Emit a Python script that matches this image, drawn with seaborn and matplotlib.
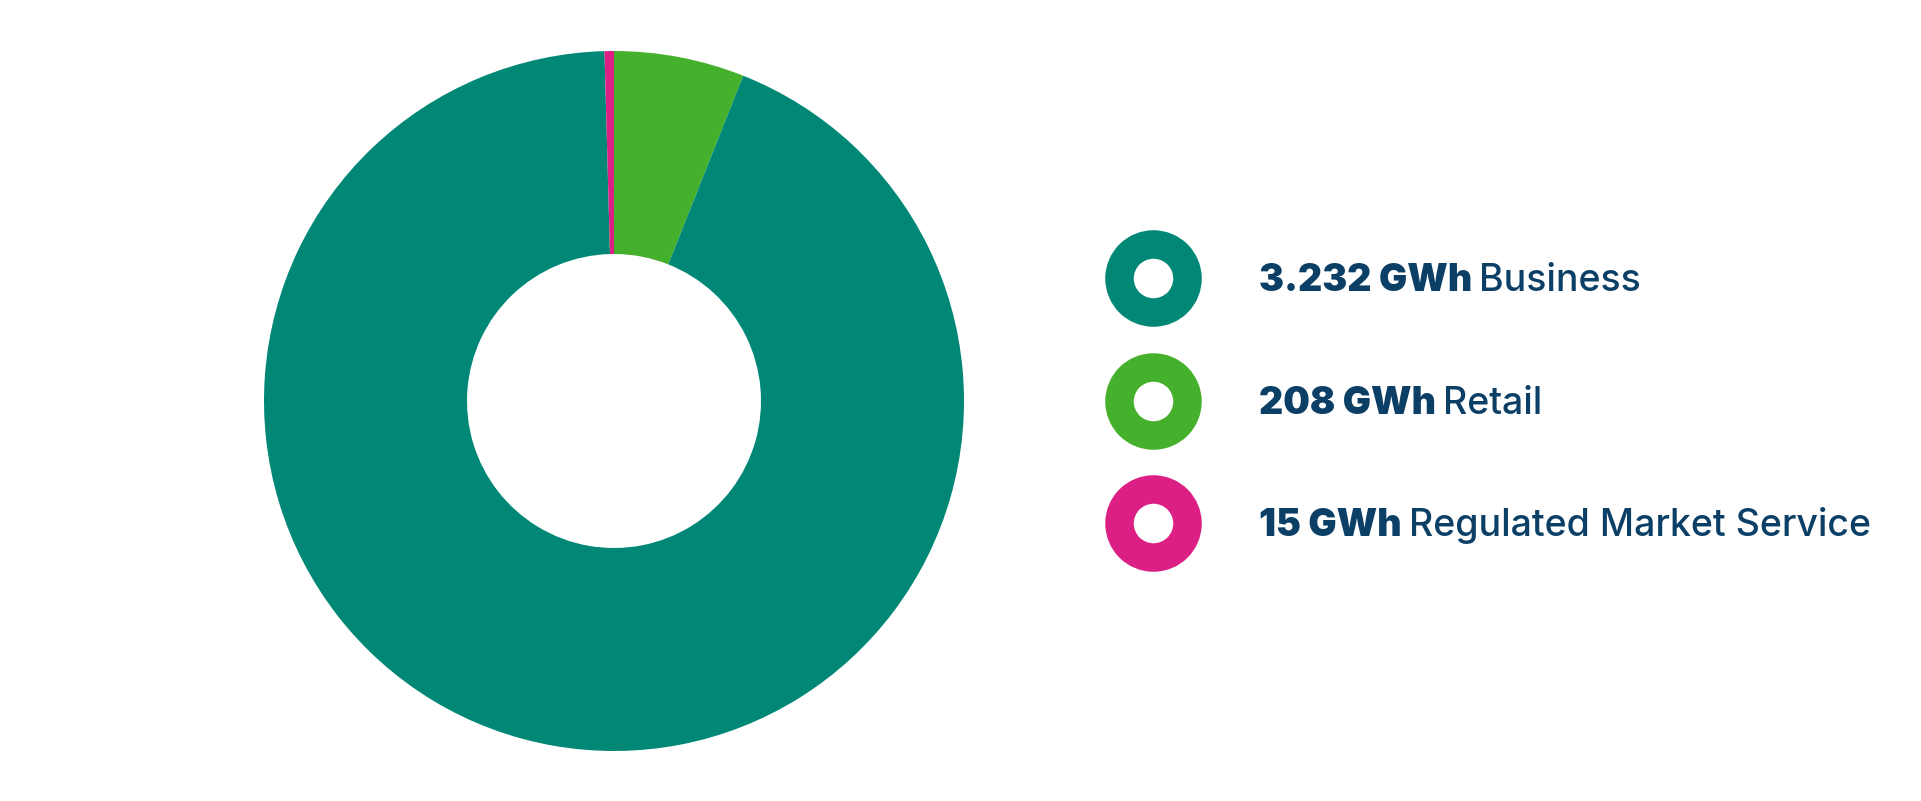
import matplotlib
matplotlib.use("Agg")
import matplotlib.pyplot as plt
import seaborn as sns

# data
labels = ["Business", "Retail", "Regulated Market Service"]
values = [3232, 208, 15]
value_labels = ["3.232 GWh", "208 GWh", "15 GWh"]
colors = ["#008775", "#45B02B", "#DB1F84"]
pie_order = [1, 0, 2]  # clockwise from 12 o'clock: Retail, Business, Regulated

navy = "#0B3F66"

sns.set_theme(style="white")
plt.rcParams["font.family"] = ["Inter", "DejaVu Sans"]

W, H = 1921, 801
fig = plt.figure(figsize=(W / 100, H / 100), dpi=100)

# donut: centre (614, 401) px, outer radius 350 px
cx, cy, r = 614, 401, 350
ax = fig.add_axes([(cx - r) / W, (H - cy - r) / H, 2 * r / W, 2 * r / H])
ax.pie(
    [values[i] for i in pie_order],
    colors=[colors[i] for i in pie_order],
    startangle=90,
    counterclock=False,
    radius=1,
    wedgeprops=dict(width=0.58, linewidth=0),
)
ax.set_xlim(-1, 1)
ax.set_ylim(-1, 1)
ax.set_aspect("equal")
ax.axis("off")

# legend drawn on a pixel-unit overlay
lg = fig.add_axes([0, 0, 1, 1])
lg.set_xlim(0, W)
lg.set_ylim(H, 0)
lg.axis("off")

for i, (lab, val, col) in enumerate(zip(labels, value_labels, colors)):
    y = 278 + 122.5 * i
    lg.scatter([1153], [y], s=2400, facecolor="white", edgecolor=col,
               linewidth=20.5, zorder=3)
    t = lg.text(1259, y + 13, val, fontsize=27, fontweight="black",
                color=navy, va="baseline", ha="left")
    lg.annotate(lab, xy=(1, 0), xycoords=t, xytext=(5, 0),
                textcoords="offset points", fontsize=27, fontweight="medium",
                color=navy, va="bottom", ha="left")

fig.savefig("out.png", dpi=100, facecolor="white")
